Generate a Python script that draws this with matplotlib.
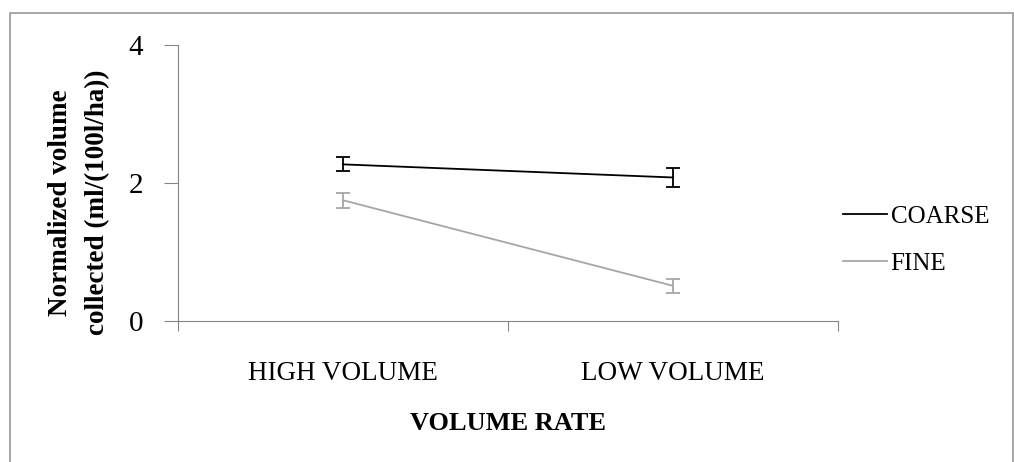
import matplotlib
matplotlib.use('Agg')
import matplotlib.pyplot as plt
from matplotlib.patches import Rectangle
from matplotlib.lines import Line2D

categories = ['HIGH VOLUME', 'LOW VOLUME']
series = ['COARSE', 'FINE']
coarse = [2.27, 2.08]
coarse_err = [0.10, 0.14]
fine = [1.75, 0.51]
fine_err = [0.11, 0.10]
colors = ['black', '#a6a6a6']

plt.rcParams['font.family'] = ['Liberation Serif', 'DejaVu Serif']

fig = plt.figure(figsize=(10.14, 4.62), dpi=100)
ax = fig.add_axes([178/1014, 1 - 321/462, 660/1014, 276/462])

x = [0.5, 1.5]
for vals, errs, c in zip([coarse, fine], [coarse_err, fine_err], colors):
    ax.errorbar(x, vals, yerr=errs, color=c, lw=1.3, capsize=5,
                elinewidth=1.3, capthick=1.3)

ax.set_xlim(0, 2)
ax.set_ylim(0, 4)
ax.set_yticks([0, 2, 4])
ax.set_xticks([0, 1, 2])
ax.set_xticklabels([])
ax.set_xticks(x, minor=True)
ax.set_xticklabels(categories, minor=True, fontsize=19.5)
ax.tick_params(axis='x', which='minor', length=0, pad=29)
ax.tick_params(axis='x', which='major', length=7, color='#868686')
ax.tick_params(axis='y', length=10, color='#868686', labelsize=21, pad=15)

for s in ['top', 'right']:
    ax.spines[s].set_visible(False)
for s in ['left', 'bottom']:
    ax.spines[s].set_color('#868686')

ax.set_xlabel('VOLUME RATE', fontsize=19, fontweight='bold')
ax.xaxis.set_label_coords(0.5, -0.373)
ax.xaxis.label.set_va('center')
ax.set_ylabel('Normalized volume\ncollected (ml/(100l/ha))', fontsize=19.5,
              fontweight='bold', linespacing=1.6)
ax.yaxis.set_label_coords(-0.15, 0.43)
ax.yaxis.label.set_va('center')

handles = [Line2D([0], [0], color=c, lw=1.3) for c in colors]
ax.legend(handles, series, loc='center left', bbox_to_anchor=(1.0076, 0.293),
          frameon=False, fontsize=18, handlelength=1.75, handletextpad=0.15,
          labelspacing=1.0, borderpad=0, borderaxespad=0)

fig.patches.append(Rectangle((10/1014, -0.05), 1003/1014, 1.05 - 13/462,
                             transform=fig.transFigure, fill=False,
                             edgecolor='#999999', lw=1.2))

fig.savefig('out.png', dpi=100)
